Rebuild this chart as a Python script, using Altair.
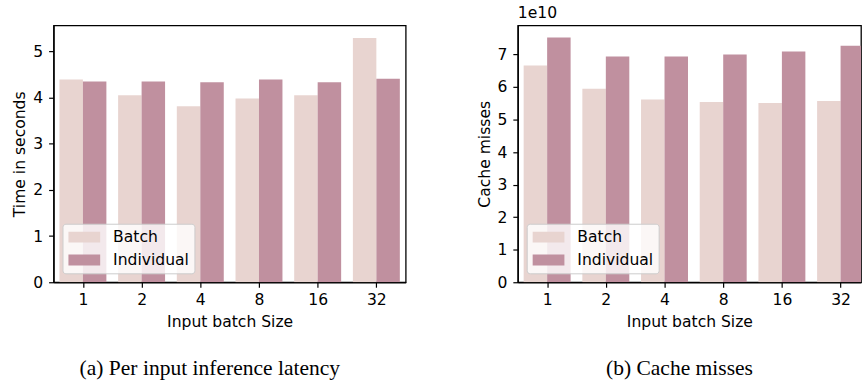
import altair as alt
import pandas as pd

sizes = ["1", "2", "4", "8", "16", "32"]
modes = ["Batch", "Individual"]
latency_batch = [4.39, 4.05, 3.81, 3.98, 4.05, 5.29]
latency_individual = [4.35, 4.35, 4.33, 4.39, 4.33, 4.41]
misses_batch = [6.66e10, 5.95e10, 5.62e10, 5.54e10, 5.51e10, 5.57e10]
misses_individual = [7.52e10, 6.94e10, 6.94e10, 7.00e10, 7.09e10, 7.27e10]
colors = ["#e8d4d0", "#c0909f"]

rows = []
for i, s in enumerate(sizes):
    rows.append({"pos": i, "size": s, "mode": "Batch", "latency": latency_batch[i], "misses": misses_batch[i]})
    rows.append({"pos": i, "size": s, "mode": "Individual", "latency": latency_individual[i], "misses": misses_individual[i]})
df = pd.DataFrame(rows)

FONT = "DejaVu Sans"
FS = 15.7
SYMBOL = "M-2,-0.6875H2V0.6875H-2Z"
size_labels = "[" + ",".join(f"'{s}'" for s in sizes) + "]"


def panel(field, ytitle, ydomain, yvalues, label_expr, width, xmax, title_text):
    return alt.Chart(df).transform_calculate(
        x0="datum.pos + (datum.mode == 'Batch' ? -0.4 : 0)",
        x1="datum.pos + (datum.mode == 'Batch' ? 0 : 0.4)",
    ).mark_bar(clip=True).encode(
        x=alt.X("x0:Q", scale=alt.Scale(domain=[-0.5, xmax], nice=False, zero=False),
                axis=alt.Axis(title="Input batch Size", values=list(range(len(sizes))),
                              labelExpr=f"{size_labels}[datum.value]", labelAngle=0)),
        x2="x1:Q",
        y=alt.Y(f"{field}:Q", scale=alt.Scale(domain=ydomain, nice=False, zero=True),
                axis=alt.Axis(title=ytitle, values=yvalues, labelExpr=label_expr)),
        y2=alt.datum(0),
        color=alt.Color("mode:N", sort=modes,
                        scale=alt.Scale(domain=modes, range=colors),
                        legend=alt.Legend(title=None, orient="bottom-left", offset=9)),
    ).properties(
        width=width, height=259,
        title=alt.TitleParams(title_text, anchor="start", frame="group", font=FONT,
                              fontSize=FS, fontWeight="normal", color="black", offset=4),
    )


left = panel("latency", "Time in seconds", [0, 5.565], [0, 1, 2, 3, 4, 5],
             "format(datum.value, 'd')", 355, 5.5, " ")
right = panel("misses", "Cache misses", [0, 7.896e10],
              [0, 1e10, 2e10, 3e10, 4e10, 5e10, 6e10, 7e10],
              "format(datum.value / 1e10, 'd')", 346, 5.348, "1e10")

cap = dict(orient="bottom", font="Liberation Serif", fontSize=21.7, fontWeight="normal",
           color="black", anchor="middle", offset=28)
left_fig = alt.vconcat(left).properties(
    title=alt.TitleParams("(a) Per input inference latency", dx=1, **cap)
).resolve_scale(color="independent").resolve_legend(color="independent")
right_fig = alt.vconcat(right).properties(
    title=alt.TitleParams("(b) Cache misses", dx=11, **cap)
).resolve_scale(color="independent").resolve_legend(color="independent")

chart = alt.hconcat(left_fig, right_fig, spacing=69).properties(
    padding={"left": 11, "top": 2, "right": 0, "bottom": 0}
).resolve_scale(color="independent").resolve_legend(color="independent").configure_view(
    stroke="black", strokeWidth=1.3
).configure_axis(
    labelFont=FONT, titleFont=FONT, labelFontSize=FS, titleFontSize=FS,
    titleFontWeight="normal", labelColor="black", titleColor="black",
    tickColor="black", domainColor="black", tickSize=5, tickWidth=1.2,
    domainWidth=1.3, grid=False
).configure_axisX(
    labelPadding=5, titlePadding=8
).configure_axisY(
    labelPadding=6, titlePadding=5
).configure_legend(
    labelFont=FONT, labelFontSize=FS, labelColor="black",
    fillColor="rgba(255,255,255,0.8)", strokeColor="#cccccc", cornerRadius=3,
    padding=5.5, rowPadding=7, symbolType=SYMBOL, symbolSize=256,
    symbolStrokeWidth=0, symbolOpacity=1, symbolOffset=8.5, labelOffset=21
)

chart.save("out.html", embed_options={"renderer": "svg", "actions": False})
